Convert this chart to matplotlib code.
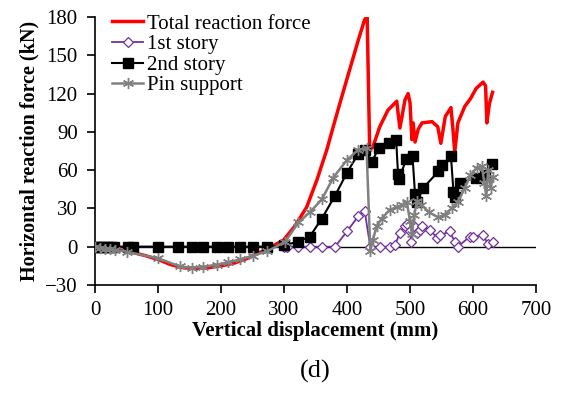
import matplotlib
matplotlib.use("Agg")
import matplotlib.pyplot as plt

plt.rcParams['font.family'] = ['Liberation Serif', 'DejaVu Serif']
plt.rcParams['mathtext.fontset'] = 'stix'

# Total reaction force
total_x = [0, 20, 40, 60, 80, 100, 120, 140, 160, 180, 200, 220, 240, 260, 280,
           299, 317, 336, 352, 368, 381, 392, 405, 418, 428, 432, 436,
           441, 452, 465, 479, 481, 484, 492, 497, 500, 503, 505, 508, 513, 519,
           535, 544, 549, 556, 565, 568, 571, 576, 587, 596, 605, 616, 620, 622, 626, 631]
total_y = [0, -1, -2.5, -4.5, -7, -10, -14, -16.5, -17, -16.5, -15, -13, -9.5, -5, 0,
           5, 16, 31, 52, 76, 99, 118, 140, 162, 178, 180, 76,
           78, 94, 107, 114, 105, 93, 115, 120, 113, 84, 97, 82, 92, 97,
           98, 94, 81, 102, 109, 93, 74, 97, 110, 116, 124, 129, 126, 97, 112, 121]

# 1st story
s1_x = [0, 10, 20, 30, 56, 300, 304, 322, 341, 360, 381, 400, 418, 428, 437,
        452, 468, 476, 484, 492, 495, 500, 502, 506, 511, 516, 519, 532, 543,
        548, 563, 571, 576, 595, 600, 616, 624, 632]
s1_y = [0, 0, 0, 0, 0, 0, 0, 0, 0, 0, 0, 12, 24, 28, 0,
        0, 0, 1, 11, 16, 18, 12, 4, 16, 11, 13, 16, 13, 7,
        9, 12, 4, 0, 8, 8, 9, 2, 4]

# 2nd story
s2_x = [0, 5, 10, 15, 20, 25, 30, 52, 60, 100, 132, 154, 171, 194, 211, 230, 251, 273,
        300, 322, 341, 360, 381, 400, 418, 429, 439, 450, 467, 478, 481, 483, 494, 504,
        508, 511, 521, 545, 551, 565, 569, 571, 579, 604, 619, 630]
s2_y = [0, 0, 0, 0, 0, 0, 0, 0, 0, 0, 0, 0, 0, 0, 0, 0, 0, 0,
        1, 4, 8, 22, 40, 58, 73, 76, 66, 77, 81, 84, 57, 53, 69, 71,
        41, 35, 46, 59, 64, 71, 43, 39, 50, 54, 56, 65]

# Pin support
pin_x = [0, 8, 16, 24, 32, 51, 100, 135, 154, 171, 194, 211, 230, 251, 273, 302,
         323, 341, 360, 378, 400, 418, 431, 437, 441, 447, 455, 468, 479, 489, 495,
         500, 503, 507, 511, 518, 530, 545, 555, 566, 576, 587, 596, 606, 614, 618,
         621, 624, 628, 631]
pin_y = [0, -1, -1.5, -2, -2.5, -4, -9, -15.5, -16.4, -15.8, -14, -12.3, -10, -7, -3.6, 4,
         19, 27, 37, 54, 68, 76, 77, -3, 5, 16, 22, 29, 31, 33, 35,
         20, 10, 25, 36, 33, 27, 23, 25, 30, 35, 46, 56, 62, 63, 50,
         40, 60, 46, 55]

xticks = [0, 100, 200, 300, 400, 500, 600, 700]
yticks = [-30, 0, 30, 60, 90, 120, 150, 180]

fig = plt.figure(figsize=(5.61, 3.95), dpi=100)
ax = fig.add_axes([95/561, 1-285/395, (536-95)/561, (285-17)/395])

ax.axhline(0, color='black', lw=1.0, zorder=1)

ax.plot(total_x, total_y, color='#FF0000', lw=2.5, label='Total reaction force', zorder=2)
ax.plot(s1_x, s1_y, color='#7030A0', lw=1.3, marker='D', markersize=5.5,
        markerfacecolor='white', markeredgecolor='#7030A0', markeredgewidth=0.9,
        label='1st story', zorder=3)
ax.plot(s2_x, s2_y, color='black', lw=1.5, marker='s', markersize=7,
        markerfacecolor='black', markeredgecolor='black', label='2nd story', zorder=4)
ax.plot(pin_x, pin_y, color='#808080', lw=1.8, marker=(6, 2, 0), markersize=8,
        markeredgecolor='#808080', markeredgewidth=1.0, label='Pin support', zorder=5)

ax.set_xlim(0, 700)
ax.set_ylim(-30, 180)
ax.set_xticks(xticks)
ax.set_yticks(yticks)
ax.tick_params(axis='both', labelsize=15, direction='out', length=5.5, width=1.2,
               color='black')
ax.tick_params(axis='x', pad=6)
ax.tick_params(axis='y', pad=7)
for side in ['top', 'right']:
    ax.spines[side].set_visible(False)
for side in ['left', 'bottom']:
    ax.spines[side].set_linewidth(1.2)

ax.set_xlabel('Vertical displacement (mm)', fontsize=15, fontweight='bold', labelpad=1)
ax.set_ylabel('Horizontal reaction force (kN)', fontsize=14.5, fontweight='bold', labelpad=4)

fig.text(315.5/561, 1-371/395, '(d)', fontsize=19, ha='center', va='center')

ax.legend(loc='upper left', bbox_to_anchor=(112/561, 1-14/395),
          bbox_transform=fig.transFigure, frameon=False, fontsize=15,
          handlelength=1.5, handletextpad=0.2, labelspacing=0.05,
          borderpad=0, borderaxespad=0, numpoints=1)

fig.savefig('out.png', dpi=100)
